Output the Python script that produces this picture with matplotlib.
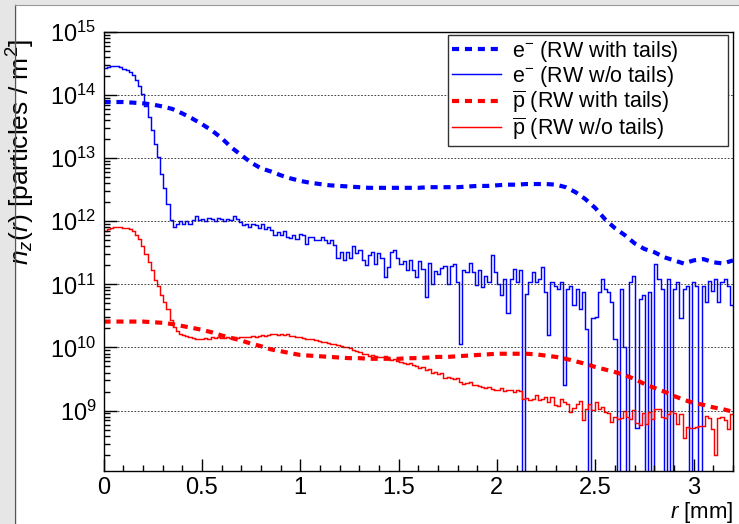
import numpy as np
import matplotlib
matplotlib.use('Agg')
import matplotlib.pyplot as plt
from matplotlib.lines import Line2D
from matplotlib.patches import Rectangle
from matplotlib.ticker import MultipleLocator, LogLocator, FormatStrFormatter, NullFormatter

plt.rcParams['font.family'] = ['Liberation Sans', 'DejaVu Sans']
plt.rcParams['mathtext.fontset'] = 'custom'
plt.rcParams['mathtext.rm'] = 'Liberation Sans'
plt.rcParams['mathtext.it'] = 'Liberation Sans:italic'
plt.rcParams['mathtext.bf'] = 'Liberation Sans:bold'

# log10 of n_z(r)
# dashed ("with tails") curves, sampled every 0.05 mm from 0 to 3.2
r_coarse = np.linspace(0, 3.2, 65)
e_tails = [13.89, 13.89, 13.89, 13.88, 13.87, 13.85, 13.82, 13.78, 13.71, 13.63,
           13.54, 13.44, 13.32, 13.17, 13.05, 12.93, 12.84, 12.79, 12.73, 12.68,
           12.64, 12.61, 12.59, 12.57, 12.56, 12.55, 12.54, 12.53, 12.53, 12.53,
           12.53, 12.53, 12.53, 12.54, 12.54, 12.54, 12.54, 12.55, 12.56, 12.56,
           12.57, 12.58, 12.58, 12.59, 12.59, 12.59, 12.58, 12.54, 12.46, 12.35,
           12.21, 12.03, 11.89, 11.78, 11.65, 11.56, 11.51, 11.43, 11.38, 11.33,
           11.38, 11.40, 11.35, 11.33, 11.38]
p_tails = [10.41, 10.41, 10.41, 10.41, 10.41, 10.40, 10.39, 10.37, 10.34, 10.31,
           10.28, 10.24, 10.19, 10.15, 10.11, 10.06, 10.02, 9.97, 9.94, 9.91,
           9.88, 9.87, 9.86, 9.85, 9.84, 9.83, 9.83, 9.82, 9.82, 9.82,
           9.82, 9.83, 9.83, 9.84, 9.85, 9.85, 9.86, 9.87, 9.88, 9.89,
           9.90, 9.90, 9.90, 9.90, 9.89, 9.87, 9.85, 9.82, 9.78, 9.74,
           9.69, 9.65, 9.61, 9.56, 9.50, 9.42, 9.36, 9.30, 9.23, 9.17,
           9.12, 9.09, 9.05, 9.02, 8.98]

# solid ("w/o tails") histograms, 200 bins over 0..3.2 mm, nan = empty bin
r_edges = np.linspace(0, 3.2, 201)
nan = np.nan
e_notails = [
    14.43, 14.45, 14.46, 14.46, 14.46, 14.45, 14.42, 14.39, 14.36, 14.32,
    14.24, 14.15, 14.02, 13.82, 13.66, 13.45, 13.22, 13.02, 12.75, 12.52,
    12.28, 12.02, 11.91, 11.96, 12.00, 11.95, 12.00, 11.96, 12.02, 12.08,
    12.02, 12.04, 12.00, 12.05, 12.04, 12.00, 12.05, 12.04, 12.00, 12.03,
    12.02, 12.08, 12.04, 11.99, 11.94, 11.96, 11.91, 11.95, 11.94, 11.89,
    11.96, 11.88, 11.91, 11.86, 11.78, 11.83, 11.78, 11.84, 11.75, 11.73,
    11.79, 11.72, 11.80, 11.79, 11.64, 11.75, 11.75, 11.70, 11.70, 11.75,
    11.71, 11.65, 11.70, 11.62, 11.41, 11.52, 11.38, 11.51, 11.41, 11.61,
    11.49, 11.54, 11.38, 11.30, 11.46, 11.52, 11.33, 11.49, 11.41, 11.12,
    11.28, 11.52, 11.54, 11.42, 11.33, 11.37, 11.22, 11.38, 11.22, 11.12,
    11.37, 11.25, 10.80, 11.34, 11.01, 11.21, 11.17, 11.26, 11.29, 11.01,
    11.29, 11.33, 11.04, 10.06, 11.22, 11.20, 11.34, 11.19, 10.99, 11.22,
    10.96, 11.13, 11.04, 11.47, 11.20, 11.01, 10.83, 11.08, 10.54, 11.09,
    11.25, 11.04, 11.22, nan, 10.85, 11.04, 11.20, 11.04, 11.09, 11.27,
    10.88, 10.19, 11.04, 10.98, 10.93, 11.04, 9.40, 10.93, 10.98, 10.67,
    10.93, 10.61, 10.88, 10.30, nan, 10.46, 10.48, 10.88, 11.09, 10.93,
    10.88, 10.72, 10.14, nan, 10.93, 10.00, nan, 11.04, 11.14, 8.72,
    10.77, 10.83, nan, 10.88, nan, 11.33, 11.09, 10.93, nan, 11.09,
    nan, 10.93, 11.04, 10.46, 10.93, 10.98, nan, 11.04, 10.98, nan,
    10.98, 10.72, 11.06, 10.90, 11.09, 10.72, 11.04, 11.09, 10.98, 10.67]
p_notails = [
    11.84, 11.88, 11.90, 11.91, 11.91, 11.91, 11.90, 11.89, 11.87, 11.84,
    11.79, 11.72, 11.60, 11.48, 11.35, 11.22, 11.07, 10.98, 10.83, 10.72,
    10.61, 10.43, 10.32, 10.26, 10.22, 10.20, 10.18, 10.16, 10.15, 10.14,
    10.14, 10.14, 10.15, 10.14, 10.16, 10.15, 10.16, 10.15, 10.15, 10.16,
    10.15, 10.16, 10.15, 10.17, 10.16, 10.17, 10.16, 10.18, 10.17, 10.18,
    10.19, 10.18, 10.20, 10.21, 10.22, 10.20, 10.21, 10.20, 10.21, 10.18,
    10.18, 10.17, 10.16, 10.15, 10.14, 10.13, 10.13, 10.11, 10.10, 10.09,
    10.08, 10.07, 10.06, 10.05, 10.04, 10.03, 10.01, 10.00, 9.99, 9.96,
    9.94, 9.92, 9.90, 9.89, 9.87, 9.88, 9.86, 9.85, 9.85, 9.86,
    9.82, 9.80, 9.82, 9.79, 9.77, 9.76, 9.74, 9.75, 9.72, 9.70,
    9.67, 9.69, 9.64, 9.66, 9.60, 9.61, 9.58, 9.59, 9.51, 9.53,
    9.52, 9.50, 9.52, 9.46, 9.42, 9.44, 9.45, 9.41, 9.40, 9.39,
    9.38, 9.36, 9.37, 9.34, 9.33, 9.32, 9.35, 9.31, 9.33, 9.32,
    9.30, 9.32, 9.31, 9.19, 9.20, 9.16, 9.18, 9.25, 9.16, 9.18,
    9.21, 9.13, 9.22, 9.09, 9.07, 9.18, 9.13, 9.10, 8.98, 9.04,
    9.10, 9.15, 8.85, 9.03, 9.10, 9.01, 9.13, 9.02, 9.05, 8.97,
    8.96, 8.82, 8.90, 8.87, 8.88, 9.00, 8.90, 8.87, 9.01, 8.80,
    8.77, 8.96, 8.79, 8.98, 8.86, 9.02, 9.03, 8.90, 8.88, 8.95,
    8.99, 8.96, 8.79, 8.94, 8.56, 8.74, 8.72, 8.73, 8.74, 8.75,
    8.76, 8.92, 8.88, 8.70, 8.29, 8.88, 8.90, 8.85, 8.70, 8.94]

labels = [r'e$^{-}$ (RW with tails)', r'e$^{-}$ (RW w/o tails)',
          r'$\overline{\mathregular{p}}$ (RW with tails)', r'$\overline{\mathregular{p}}$ (RW w/o tails)']
y_decades = [1e9, 1e10, 1e11, 1e12, 1e13, 1e14, 1e15]


def to_lin(logvals):
    v = np.array(logvals, dtype=float)
    # empty bins -> far below the axis so the step drops out of view
    return np.where(np.isnan(v), 1.0, 10.0 ** v)


fig = plt.figure(figsize=(7.39, 5.24), dpi=100)
ax = fig.add_axes([103.5 / 739, 1 - 471 / 524, 629.5 / 739, 439 / 524])

dash = (0, (1.7, 1.4))
ax.plot(r_coarse, 10.0 ** np.array(e_tails), color='#0000ff', lw=3.0, ls=dash)
ax.stairs(to_lin(e_notails), r_edges, baseline=None, color='#0000ff', lw=1.05)
ax.plot(r_coarse, 10.0 ** np.array(p_tails), color='#ff0000', lw=3.0, ls=dash)
ax.stairs(to_lin(p_notails), r_edges, baseline=None, color='#ff0000', lw=1.05)

ax.set_yscale('log')
ax.set_xlim(0, 3.2)
ax.set_ylim(1.1e8, 1e15)

ax.xaxis.set_major_locator(MultipleLocator(0.5))
ax.xaxis.set_minor_locator(MultipleLocator(0.1))
ax.xaxis.set_major_formatter(FormatStrFormatter('%g'))
ax.set_yticks(y_decades)
ax.yaxis.set_minor_locator(LogLocator(base=10, subs=np.arange(2, 10), numticks=20))
ax.yaxis.set_minor_formatter(NullFormatter())
ax.tick_params(which='both', direction='in', top=False, right=False, width=1.0)
ax.tick_params(which='major', length=9)
ax.tick_params(which='minor', length=4.5)
ax.tick_params(axis='y', pad=5, labelsize=17)
ax.tick_params(axis='x', pad=4, labelsize=17)

ax.yaxis.grid(True, which='major', color='#222222', lw=0.6, ls=(0, (2, 2)))
for s in ax.spines.values():
    s.set_linewidth(1.0)

ax.set_ylabel(r'$n_{z}(r)$ [particles / m$^{2}$]', fontsize=19, loc='top')
ax.yaxis.set_label_coords(-0.106, 0.985)
ax.set_xlabel(r'$r$ [mm]', fontsize=16, loc='right')
ax.xaxis.set_label_coords(1.0, -0.0665)

handles = [Line2D([], [], color='#0000ff', lw=3.0, ls=dash),
           Line2D([], [], color='#0000ff', lw=1.05),
           Line2D([], [], color='#ff0000', lw=3.0, ls=dash),
           Line2D([], [], color='#ff0000', lw=1.05)]
leg = ax.legend(handles, labels, loc='upper left', mode='expand',
                bbox_to_anchor=(0.547, 0.743, 0.445, 0.25),
                fontsize=15.5, frameon=True, fancybox=False, framealpha=1,
                edgecolor='#333333', borderpad=0.18, labelspacing=0.0,
                handlelength=2.3, handletextpad=0.5, borderaxespad=0)
leg.get_frame().set_linewidth(1.0)

# grey canvas border like the ROOT window
fig.patches.append(Rectangle((0, 0), 14 / 739, 1, transform=fig.transFigure,
                             facecolor='#e6e6e6', edgecolor='none', zorder=-1))
fig.patches.append(Rectangle((0, 1 - 5 / 524), 1, 5 / 524, transform=fig.transFigure,
                             facecolor='#e6e6e6', edgecolor='none', zorder=-1))
fig.lines.append(Line2D([15 / 739, 15 / 739], [0, 1 - 5 / 524], transform=fig.transFigure,
                        color='#555555', lw=1.0))
fig.lines.append(Line2D([15 / 739, 1], [1 - 5 / 524, 1 - 5 / 524], transform=fig.transFigure,
                        color='#999999', lw=0.8))

fig.savefig('out.png', dpi=100)
